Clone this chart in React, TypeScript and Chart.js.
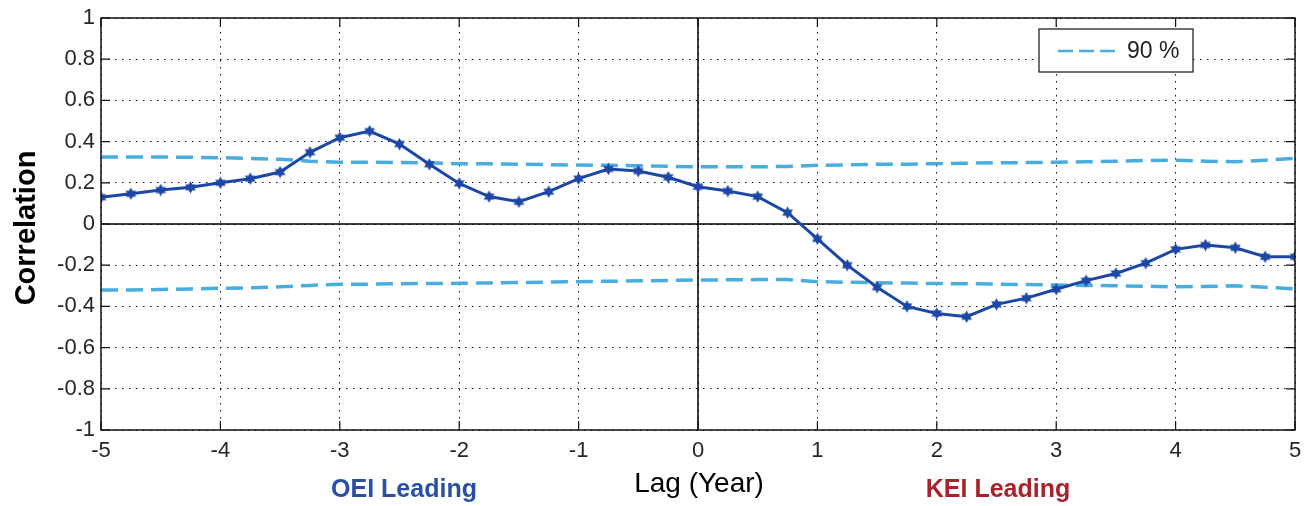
import React, { useEffect, useRef } from "react";
import { Chart, registerables } from "chart.js";

Chart.register(...registerables);

const lags: number[] = [
  -5, -4.75, -4.5, -4.25, -4, -3.75, -3.5, -3.25, -3, -2.75, -2.5, -2.25, -2, -1.75, -1.5, -1.25, -1, -0.75, -0.5, -0.25,
  0, 0.25, 0.5, 0.75, 1, 1.25, 1.5, 1.75, 2, 2.25, 2.5, 2.75, 3, 3.25, 3.5, 3.75, 4, 4.25, 4.5, 4.75, 5,
];

const correlation: number[] = [
  0.13, 0.147, 0.165, 0.178, 0.2, 0.22, 0.252, 0.348, 0.419, 0.451, 0.388, 0.29, 0.197, 0.133, 0.108, 0.157, 0.22, 0.267,
  0.257, 0.227, 0.181, 0.16, 0.133, 0.055, -0.072, -0.2, -0.307, -0.4, -0.434, -0.45, -0.39, -0.36, -0.317, -0.275, -0.24,
  -0.19, -0.123, -0.102, -0.115, -0.159, -0.159,
];

const upper90: number[] = [
  0.325, 0.325, 0.325, 0.324, 0.322, 0.318, 0.314, 0.305, 0.3, 0.3, 0.298, 0.297, 0.293, 0.292, 0.29, 0.288, 0.286, 0.285,
  0.283, 0.28, 0.278, 0.278, 0.278, 0.279, 0.285, 0.287, 0.29, 0.29, 0.293, 0.295, 0.297, 0.298, 0.3, 0.302, 0.305, 0.308,
  0.31, 0.305, 0.302, 0.31, 0.318,
];

const lower90: number[] = [
  -0.32, -0.32, -0.318, -0.315, -0.312, -0.31, -0.305, -0.298, -0.293, -0.292, -0.29, -0.289, -0.288, -0.286, -0.284,
  -0.282, -0.28, -0.278, -0.276, -0.274, -0.272, -0.271, -0.27, -0.27, -0.28, -0.283, -0.285, -0.287, -0.289, -0.29,
  -0.292, -0.294, -0.296, -0.298, -0.3, -0.302, -0.305, -0.303, -0.3, -0.307, -0.315,
];

const yTicks: number[] = [-1, -0.8, -0.6, -0.4, -0.2, 0, 0.2, 0.4, 0.6, 0.8, 1];
const xTicks: number[] = [-5, -4, -3, -2, -1, 0, 1, 2, 3, 4, 5];

const yTitle = "Correlation";
const xTitle = "Lag (Year)";
const leftNote = "OEI Leading";
const rightNote = "KEI Leading";
const legendLabel = "90 %";

const MAIN = "#1d47a6";
const DASH = "#4aaddf";
const FONT = "'Liberation Sans', Arial, sans-serif";

function makeStar(): HTMLCanvasElement {
  const c = document.createElement("canvas");
  c.width = 13;
  c.height = 13;
  const ctx = c.getContext("2d")!;
  ctx.fillStyle = MAIN;
  ctx.beginPath();
  const cx = 6.5, cy = 6.5, ro = 6.2, ri = 3.6;
  for (let i = 0; i < 12; i++) {
    const r = i % 2 === 0 ? ro : ri;
    const a = -Math.PI / 2 + (i * Math.PI) / 6;
    const px = cx + r * Math.cos(a);
    const py = cy + r * Math.sin(a);
    if (i === 0) ctx.moveTo(px, py);
    else ctx.lineTo(px, py);
  }
  ctx.closePath();
  ctx.fill();
  return c;
}

const decorPlugin = {
  id: "decor",
  beforeDatasetsDraw(chart: any) {
    const { ctx, chartArea: a, scales } = chart;
    const x0 = scales.x.getPixelForValue(0);
    const y0 = scales.y.getPixelForValue(0);
    ctx.save();
    ctx.strokeStyle = "#000";
    ctx.lineWidth = 1.5;
    ctx.beginPath();
    ctx.moveTo(a.left, y0);
    ctx.lineTo(a.right, y0);
    ctx.moveTo(x0, a.top);
    ctx.lineTo(x0, a.bottom);
    ctx.stroke();
    ctx.restore();
  },
  afterDatasetsDraw(chart: any) {
    const { ctx, chartArea: a, scales } = chart;
    ctx.save();
    // box
    ctx.strokeStyle = "#111";
    ctx.lineWidth = 1.5;
    ctx.strokeRect(a.left, a.top, a.right - a.left, a.bottom - a.top);
    // inward tick marks
    const tl = 9;
    ctx.lineWidth = 1.2;
    ctx.beginPath();
    yTicks.forEach((v) => {
      const py = scales.y.getPixelForValue(v);
      ctx.moveTo(a.left, py);
      ctx.lineTo(a.left + tl, py);
      ctx.moveTo(a.right, py);
      ctx.lineTo(a.right - tl, py);
    });
    xTicks.forEach((v) => {
      const px = scales.x.getPixelForValue(v);
      ctx.moveTo(px, a.bottom);
      ctx.lineTo(px, a.bottom - tl);
      ctx.moveTo(px, a.top);
      ctx.lineTo(px, a.top + tl);
    });
    ctx.stroke();

    // legend
    const lx = 1039, ly = 29, lw = 154, lh = 43;
    ctx.fillStyle = "#fff";
    ctx.fillRect(lx, ly, lw, lh);
    ctx.strokeStyle = "#111";
    ctx.lineWidth = 1.2;
    ctx.strokeRect(lx, ly, lw, lh);
    ctx.strokeStyle = DASH;
    ctx.lineWidth = 2.5;
    ctx.setLineDash([15, 6]);
    ctx.beginPath();
    ctx.moveTo(1058, 51);
    ctx.lineTo(1120, 51);
    ctx.stroke();
    ctx.setLineDash([]);
    ctx.fillStyle = "#222";
    ctx.font = `23px ${FONT}`;
    ctx.textAlign = "left";
    ctx.textBaseline = "middle";
    ctx.fillText(legendLabel, 1127, 52);

    // titles
    ctx.textAlign = "center";
    ctx.fillStyle = "#000";
    ctx.font = `28px ${FONT}`;
    ctx.fillText(xTitle, 699, 484);
    ctx.font = `bold 25px ${FONT}`;
    ctx.fillStyle = "#2b4fa3";
    ctx.fillText(leftNote, 404, 490);
    ctx.fillStyle = "#a8232b";
    ctx.fillText(rightNote, 998, 490);

    ctx.save();
    ctx.translate(27, 228);
    ctx.rotate(-Math.PI / 2);
    ctx.fillStyle = "#000";
    ctx.font = `bold 29px ${FONT}`;
    ctx.fillText(yTitle, 0, 0);
    ctx.restore();
    ctx.restore();
  },
};

export default function App() {
  const ref = useRef<HTMLCanvasElement | null>(null);

  useEffect(() => {
    if (!ref.current) return;
    const star = makeStar();
    const toXY = (vals: number[]) => lags.map((x, i) => ({ x, y: vals[i] }));
    const chart = new Chart(ref.current, {
      type: "line",
      data: {
        datasets: [
          {
            label: "Correlation",
            data: toXY(correlation),
            borderColor: MAIN,
            backgroundColor: MAIN,
            borderWidth: 3,
            pointStyle: star as any,
            pointRadius: 6,
            tension: 0,
            order: 0,
          },
          {
            label: "90 %",
            data: toXY(upper90),
            borderColor: DASH,
            borderWidth: 3.5,
            borderDash: [17, 8],
            pointRadius: 0,
            tension: 0,
            order: 1,
          },
          {
            label: "90 % lower",
            data: toXY(lower90),
            borderColor: DASH,
            borderWidth: 3.5,
            borderDash: [17, 8],
            pointRadius: 0,
            tension: 0,
            order: 1,
          },
        ],
      },
      options: {
        responsive: false,
        animation: false,
        devicePixelRatio: 1,
        layout: { padding: { left: 0, right: 7, top: 18, bottom: 0 } },
        plugins: { legend: { display: false }, tooltip: { enabled: false } },
        scales: {
          x: {
            type: "linear",
            min: -5,
            max: 5,
            afterBuildTicks: (s: any) => {
              s.ticks = xTicks.map((v) => ({ value: v }));
            },
            afterFit: (s: any) => {
              s.height = 76;
              s.paddingLeft = 0;
              s.paddingRight = 0;
            },
            ticks: {
              color: "#262626",
              font: { family: FONT, size: 22 },
              padding: 8,
              maxRotation: 0,
              callback: (v: any) => String(v),
            },
            grid: { drawTicks: false, color: "#111", lineWidth: 1 },
            border: { display: false, dash: [1.5, 5.5] },
          },
          y: {
            type: "linear",
            min: -1,
            max: 1,
            afterBuildTicks: (s: any) => {
              s.ticks = yTicks.map((v) => ({ value: v }));
            },
            afterFit: (s: any) => {
              s.width = 101;
              s.paddingTop = 0;
              s.paddingBottom = 0;
            },
            ticks: {
              color: "#262626",
              font: { family: FONT, size: 22 },
              padding: 6,
              callback: (v: any) => String(Number(Number(v).toFixed(1))),
            },
            grid: { drawTicks: false, color: "#111", lineWidth: 1 },
            border: { display: false, dash: [1.5, 5.5] },
          },
        },
      },
      plugins: [decorPlugin],
    });
    return () => chart.destroy();
  }, []);

  return (
    <div style={{ position: "absolute", left: 0, top: 0, width: 1304, height: 506, background: "#fff" }}>
      <canvas ref={ref} width={1304} height={506} style={{ width: 1304, height: 506 }} />
    </div>
  );
}
